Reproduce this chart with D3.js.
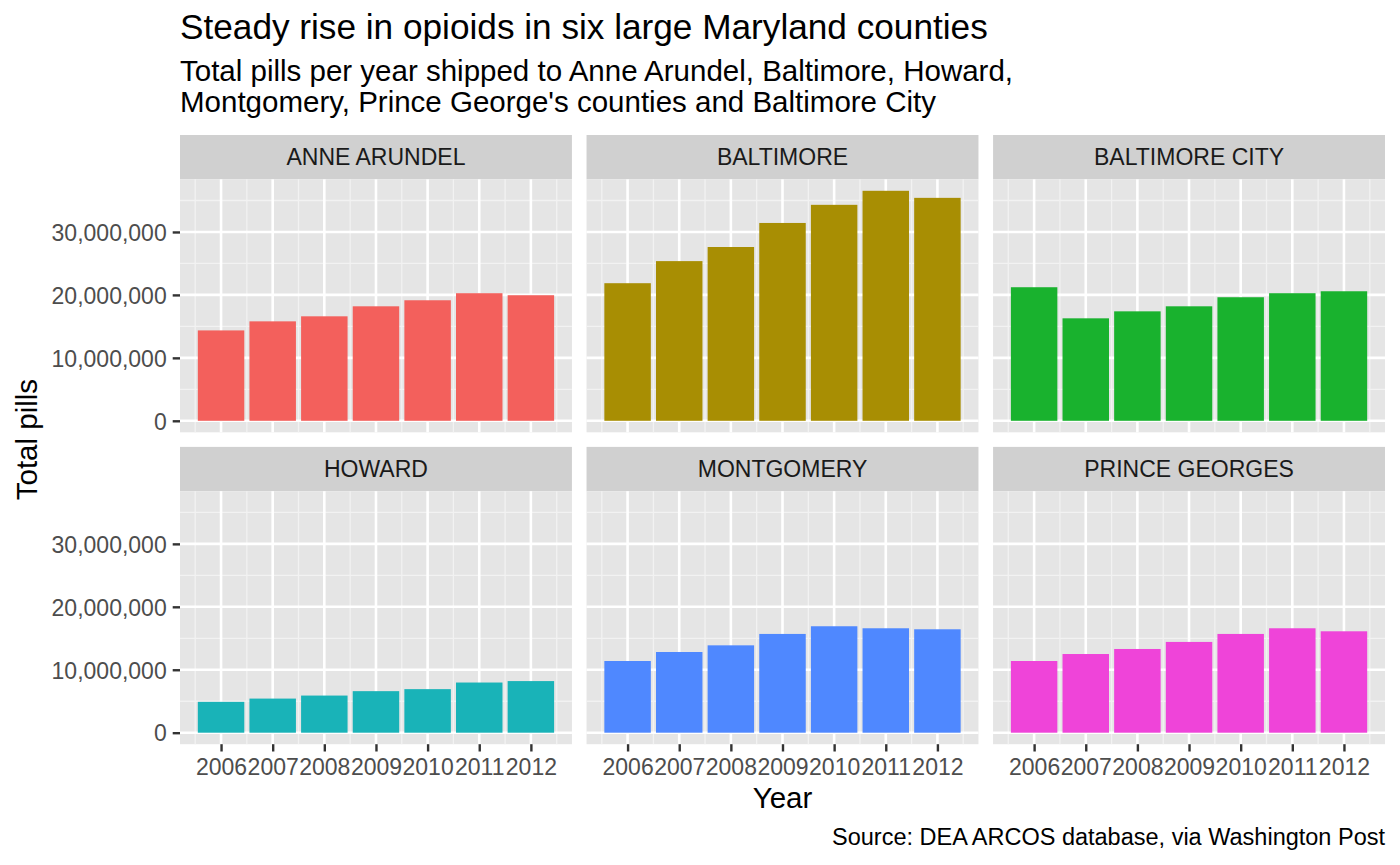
<!DOCTYPE html>
<html>
<head>
<meta charset="utf-8">
<script src="https://cdn.jsdelivr.net/npm/d3@7"></script>
<style>
  html, body { margin: 0; padding: 0; background: #ffffff; }
  svg { display: block; font-family: "Liberation Sans", Arial, Helvetica, sans-serif; }
</style>
</head>
<body>
<svg id="chart" width="1400" height="865"></svg>
<script>
// ---------------- data ----------------
const years = [2006, 2007, 2008, 2009, 2010, 2011, 2012];
const counties = ["ANNE ARUNDEL", "BALTIMORE", "BALTIMORE CITY", "HOWARD", "MONTGOMERY", "PRINCE GEORGES"];
const anneArundel    = [14360000, 15800000, 16600000, 18190000, 19150000, 20270000, 19950000];
const baltimore      = [21860000, 25370000, 27610000, 31430000, 34310000, 36540000, 35420000];
const baltimoreCity  = [21220000, 16280000, 17390000, 18190000, 19630000, 20270000, 20580000];
const howard         = [4900000, 5420000, 5900000, 6600000, 6920000, 7970000, 8200000];
const montgomery     = [11390000, 12820000, 13880000, 15690000, 16910000, 16590000, 16430000];
const princeGeorges  = [11390000, 12500000, 13300000, 14420000, 15690000, 16590000, 16110000];
const yTicks = [0, 10000000, 20000000, 30000000];
const yMinor = [5000000, 15000000, 25000000, 35000000];
const colors = ["#F3605C", "#A88E03", "#19B22E", "#19B3B8", "#4F88FF", "#EF44D9"];

const titleText = "Steady rise in opioids in six large Maryland counties";
const subtitleLines = ["Total pills per year shipped to Anne Arundel, Baltimore, Howard,",
                       "Montgomery, Prince George's counties and Baltimore City"];
const xTitle = "Year";
const yTitle = "Total pills";
const captionText = "Source: DEA ARCOS database, via Washington Post";

const seriesList = [anneArundel, baltimore, baltimoreCity, howard, montgomery, princeGeorges];

// ---------------- layout ----------------
const svg = d3.select("#chart");
const plotLeft = 180, plotRight = 1385;
const spacing = 14.6;
const nCol = 3, nRow = 2;
const panelW = (plotRight - plotLeft - spacing * (nCol - 1)) / nCol;
const top0 = 135, stripH = 44.3, panelH = 253;

const FONT_AXIS = 23;
const TXT_AXIS = "#4D4D4D";

const barW = 0.9;
const xDomainMin = years[0] - barW / 2, xDomainMax = years[years.length - 1] + barW / 2;
const xPad = (xDomainMax - xDomainMin) * 0.05;

const maxVal = d3.max(seriesList.flat());
const yPad = maxVal * 0.05;

const xMinor = d3.range(years[0] - 0.5, years[years.length - 1] + 1, 1);

counties.forEach((name, i) => {
  const col = i % nCol, row = Math.floor(i / nCol);
  const px = plotLeft + col * (panelW + spacing);
  const sy = top0 + row * (stripH + panelH + spacing);
  const py = sy + stripH;

  const x = d3.scaleLinear().domain([xDomainMin - xPad, xDomainMax + xPad]).range([px, px + panelW]);
  const y = d3.scaleLinear().domain([-yPad, maxVal + yPad]).range([py + panelH, py]);

  const g = svg.append("g");
  // strip
  g.append("rect").attr("x", px).attr("y", sy).attr("width", panelW).attr("height", stripH).attr("fill", "#D0D0D0");
  g.append("text").attr("x", px + panelW / 2).attr("y", sy + stripH / 2 + 8.2)
    .attr("text-anchor", "middle").attr("font-size", FONT_AXIS).attr("fill", "#1A1A1A").text(name);
  // panel
  g.append("rect").attr("x", px).attr("y", py).attr("width", panelW).attr("height", panelH).attr("fill", "#E5E5E5");
  // minor grid
  g.selectAll(".ym").data(yMinor).enter().append("line")
    .attr("x1", px).attr("x2", px + panelW).attr("y1", d => y(d)).attr("y2", d => y(d))
    .attr("stroke", "#F2F2F2").attr("stroke-width", 1.3);
  g.selectAll(".xm").data(xMinor).enter().append("line")
    .attr("y1", py).attr("y2", py + panelH).attr("x1", d => x(d)).attr("x2", d => x(d))
    .attr("stroke", "#F2F2F2").attr("stroke-width", 1.3);
  // major grid
  g.selectAll(".yM").data(yTicks).enter().append("line")
    .attr("x1", px).attr("x2", px + panelW).attr("y1", d => y(d)).attr("y2", d => y(d))
    .attr("stroke", "#FFFFFF").attr("stroke-width", 2.6);
  g.selectAll(".xM").data(years).enter().append("line")
    .attr("y1", py).attr("y2", py + panelH).attr("x1", d => x(d)).attr("x2", d => x(d))
    .attr("stroke", "#FFFFFF").attr("stroke-width", 2.6);
  // bars
  const vals = seriesList[i];
  g.selectAll(".bar").data(years.map((yr, k) => ({ yr, v: vals[k] }))).enter().append("rect")
    .attr("x", d => x(d.yr - barW / 2))
    .attr("width", d => x(d.yr + barW / 2) - x(d.yr - barW / 2))
    .attr("y", d => y(d.v))
    .attr("height", d => y(0) - y(d.v))
    .attr("fill", colors[i]);

  // y axis (first column)
  if (col === 0) {
    const ax = d3.axisLeft(y).tickValues(yTicks).tickFormat(d3.format(",")).tickSize(7.3).tickPadding(6);
    const ag = svg.append("g").attr("transform", `translate(${px},0)`).call(ax);
    ag.select(".domain").remove();
    ag.selectAll(".tick line").attr("stroke", "#333333").attr("stroke-width", 2.4);
    ag.selectAll(".tick text").attr("fill", TXT_AXIS).attr("font-size", FONT_AXIS)
      .attr("font-family", "Liberation Sans, Arial, sans-serif").attr("dy", "0.36em");
  }
  // x axis (bottom row)
  if (row === nRow - 1) {
    const ax = d3.axisBottom(x).tickValues(years).tickFormat(d3.format("d")).tickSize(7.3).tickPadding(7.5);
    const ag = svg.append("g").attr("transform", `translate(0,${py + panelH})`).call(ax);
    ag.select(".domain").remove();
    ag.selectAll(".tick line").attr("stroke", "#333333").attr("stroke-width", 2.4);
    ag.selectAll(".tick text").attr("fill", TXT_AXIS).attr("font-size", FONT_AXIS)
      .attr("font-family", "Liberation Sans, Arial, sans-serif");
  }
});

// titles
svg.append("text").attr("x", plotLeft).attr("y", 38.5).attr("font-size", 35.2).attr("fill", "#000").text(titleText);
svg.append("text").attr("x", plotLeft).attr("y", 81).attr("font-size", 29.5).attr("fill", "#000").text(subtitleLines[0]);
svg.append("text").attr("x", plotLeft).attr("y", 111.5).attr("font-size", 29.5).attr("fill", "#000").text(subtitleLines[1]);

svg.append("text").attr("x", (plotLeft + plotRight) / 2).attr("y", 808).attr("text-anchor", "middle")
  .attr("font-size", 29.5).attr("fill", "#000").text(xTitle);
const midY = (top0 + (top0 + 2 * (stripH + panelH) + spacing)) / 2;
svg.append("text").attr("transform", `translate(37,${midY}) rotate(-90)`).attr("text-anchor", "middle")
  .attr("font-size", 29.5).attr("fill", "#000").text(yTitle);
svg.append("text").attr("x", plotRight).attr("y", 845).attr("text-anchor", "end")
  .attr("font-size", 23.5).attr("fill", "#000").text(captionText);
</script>
</body>
</html>
